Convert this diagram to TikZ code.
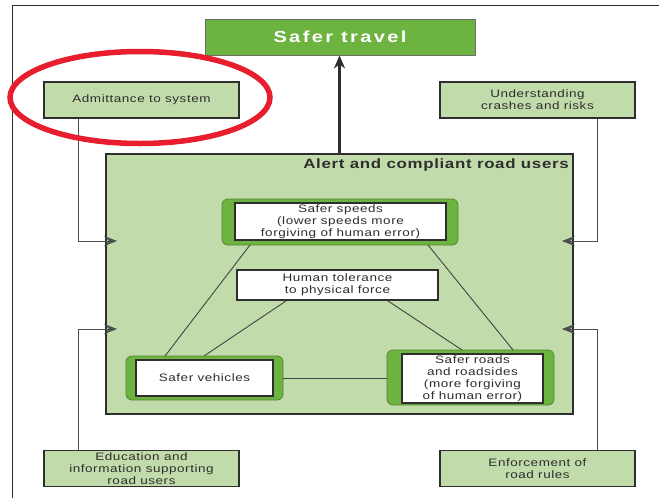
\documentclass[tikz,border=0pt]{standalone}
\usepackage{fontspec}
\setmainfont{Liberation Sans}
\newfontfamily\diafont[FakeStretch=1.25,LetterSpace=5]{Liberation Sans}
\newfontfamily\headfont[FakeStretch=1.25,LetterSpace=15]{Liberation Sans}
\usetikzlibrary{arrows.meta}
\definecolor{lgreen}{HTML}{C2DBAB}
\definecolor{dgreen}{HTML}{6DB33F}
\definecolor{ink}{HTML}{2E2E2E}
\definecolor{ringred}{HTML}{E81E2E}
\tikzset{
  txt/.style={font=\diafont\fontsize{10.8}{12}\selectfont,text=ink,align=center,inner sep=0pt},
  sidebox/.style={txt,draw=ink,line width=1.6pt,fill=lgreen,minimum width=195pt,minimum height=36pt},
  ring/.style={draw=dgreen!75!black,line width=0.8pt,fill=dgreen,rounded corners=6pt},
  whitebox/.style={txt,draw=ink,line width=1.6pt,fill=white},
  feed/.style={draw=ink!85,line width=0.9pt,-{Stealth[length=13pt,width=10pt,inset=5pt]},shorten >=-12pt},
  link/.style={draw=ink!90,line width=0.9pt}
}
\begin{document}
\begin{tikzpicture}[x=1pt,y=-1pt]
\useasboundingbox (0,0) rectangle (659,498);
\draw[ink,line width=0.8pt] (12,498)--(12,5)--(659,5);
% top goal and outer influences
\node[txt,draw=ink!70,line width=0.8pt,fill=dgreen,minimum width=270pt,minimum height=36pt,text=white,font=\headfont\bfseries\fontsize{16}{18}\selectfont] (travel) at (340,37) {Safer travel};
\foreach \n/\x/\y/\t in {admit/141.5/100/Admittance to system,underst/537.5/100/{Understanding\\crashes and risks},educ/141.5/468.5/{Education and\\information supporting\\road users},enforce/537.5/468.5/{Enforcement of\\road rules}}
  \node[sidebox] (\n) at (\x,\y) {\t};
% road users box
\node[draw=ink,line width=1.8pt,fill=lgreen,minimum width=467pt,minimum height=260pt,inner sep=0pt] (main) at (339.5,284) {};
\node[txt,anchor=north east,font=\diafont\bfseries\fontsize{13.5}{15}\selectfont] (alert) at ([xshift=-5pt,yshift=-5pt]main.north east) {Alert and compliant road users};
\draw[ink,line width=2.6pt,-{Stealth[length=13pt,width=11pt,inset=4pt]}] (main.north) -- (main.north |- travel.south);
\draw[feed] ([xshift=35pt]admit.south west) |- ([yshift=43pt]main.west);
\draw[feed] ([xshift=35pt]educ.north west) |- ([yshift=-45pt]main.west);
\draw[feed] ([xshift=-38pt]underst.south east) |- ([yshift=43pt]main.east);
\draw[feed] ([xshift=-38pt]enforce.north east) |- ([yshift=-45pt]main.east);
% the safe system triangle
\draw[ring] (222,199) rectangle (458,245);
\draw[ring] (126,356) rectangle (283,400);
\draw[ring] (387,350) rectangle (554,405);
\coordinate (spdf-sw) at (222,245); \coordinate (spdf-se) at (458,245);
\coordinate (vehf-nw) at (126,356); \coordinate (vehf-e) at (283,378);
\coordinate (roadf-nw) at (387,350); \coordinate (roadf-w) at (387,378);
\node[whitebox,minimum width=201pt,minimum height=30pt] (tol) at (337.5,285) {Human tolerance\\to physical force};
\draw[link] ([xshift=28pt]spdf-sw) -- ([xshift=39pt]vehf-nw);
\draw[link] ([xshift=-30pt]spdf-se) -- ([xshift=126pt]roadf-nw);
\draw[link] ([xshift=50pt]tol.south west) -- ([xshift=78pt]vehf-nw);
\draw[link] ([xshift=-51pt]tol.south east) -- ([xshift=75pt]roadf-nw);
\draw[link] (vehf-e) -- (roadf-w);
\node[whitebox,minimum width=211pt,minimum height=37pt] (speeds) at (340.5,221.5) {Safer speeds\\(lower speeds more\\forgiving of human error)};
\node[whitebox,minimum width=137pt,minimum height=36pt] (vehicles) at (204.5,378) {Safer vehicles};
\node[whitebox,minimum width=141pt,minimum height=49pt] (roads) at (472.5,378.5) {Safer roads\\and roadsides\\(more forgiving\\of human error)};
% highlight
\draw[ringred,line width=5.5pt] (140,97.5) ellipse [x radius=130, y radius=46];
\end{tikzpicture}
\end{document}
